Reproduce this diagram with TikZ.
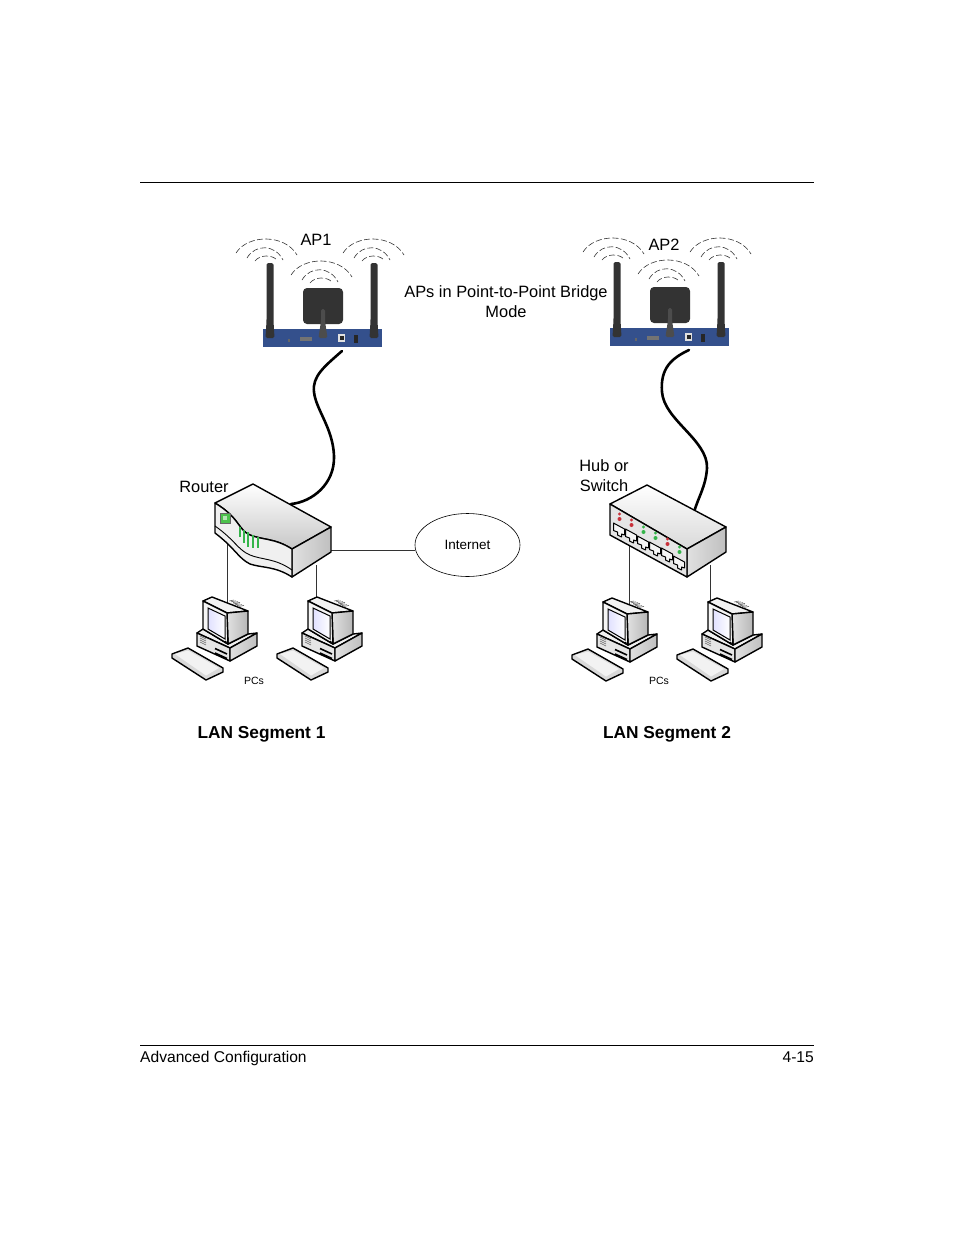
\documentclass[tikz,border=0pt]{standalone}
\usepackage{fontspec}
\setmainfont{Liberation Sans}
\usetikzlibrary{shapes.geometric}

\definecolor{apblue}{HTML}{34508C}
\definecolor{antenna}{HTML}{333333}
\definecolor{ledgreen}{HTML}{35B54A}
\definecolor{ledred}{HTML}{C8313A}

\tikzset{
  label16/.style = {font=\fontsize{16.4}{20}\selectfont, align=center, inner sep=0pt},
  footer/.style = {font=\fontsize{15.6}{18}\selectfont, inner sep=0pt},
  segment/.style = {font=\bfseries\fontsize{17.3}{20}\selectfont, inner sep=0pt},
  small/.style = {font=\fontsize{10.5}{12}\selectfont, inner sep=0pt},
  case/.style = {draw=black, line width=1.4pt, line join=round},
  link/.style = {draw=black!80, line width=0.7pt},
  cable/.style = {draw=black, line width=2.6pt, line cap=round},
  wave/.style = {draw=black!80, line width=0.6pt, dash pattern=on 6pt off 2.5pt},
  waves/.pic = {
    \draw [wave] (-34, -9) .. controls (-22, -28) and (15, -28) .. (27, -7);
    \draw [wave] (-23, -4) .. controls (-15, -18) and (5, -18) .. (13, -2);
    \draw [wave] (-15, -1) .. controls (-10, -7.5) and (2, -7.5) .. (7, -2);
  },
  ap/.pic = {
    % panel
    % -----
    \fill [antenna, rounded corners=4pt] (40, -41) rectangle (80, -5);
    % box
    % ---
    \fill [apblue] (0, 0) rectangle (119, 18);
    \fill [black!55] (37, 7.5) rectangle (49, 12);
    \fill [black!60] (24.5, 9.5) rectangle (26.5, 13);
    \fill [black!12] (75, 4.5) rectangle (82, 13);
    \fill [black!85] (76.5, 6.5) rectangle (80.5, 11);
    \fill [black!85] (91, 6) rectangle (95, 14);
    % antennas
    % --------
    \foreach \ax/\at/\aw/\ac in {7/-66/3.5/black!80, 111/-66/3.5/black!80, 60/-20/2/black!70} {
      \fill [\ac, rounded corners=1.5pt]
        (\ax - \aw, \at) --
        (\ax + \aw, \at) --
        (\ax + \aw, -8) --
        (\ax + 4.5, 9) --
        (\ax - 4.5, 9) --
        (\ax - \aw, -8) --
        cycle
      ;
    }
    \pic at (7, -67) {waves};
    \pic at (114, -67) {waves};
    \pic at (62, -45) {waves};
  },
  pc/.pic = {
    % base
    % ----
    \draw [case, fill=black!6] (-6, 32) -- (0, 28) -- (25, 43) -- (45, 33) -- (54, 32) -- (27, 47) -- cycle;
    \draw [case, fill=black!10] (-6, 32) -- (27, 47) -- (27, 60) -- (-6, 45) -- cycle;
    \draw [case, left color=black!12, right color=black!25] (27, 47) -- (54, 32) -- (54, 45) -- (27, 60) -- cycle;
    \draw [black, line width=1.6pt] (12, 47.5) -- (24, 53);
    \draw [black, line width=1.6pt] (12, 52) -- (24, 57.5);
    \foreach \vy in {0, 2, 4, 6} {
      \draw [black!60, line width=0.6pt] (-3, 35 + \vy) -- (3, 38 + \vy);
    }
    % monitor
    % -------
    \draw [case, fill=black!5] (0, 0) -- (9, -4) -- (45, 10) -- (24, 12) -- cycle;
    \draw [case, left color=black!12, right color=black!28] (24, 12) -- (45, 10) -- (45, 33) -- (25, 43) -- cycle;
    \draw [case, fill=black!4] (0, 0) -- (24, 12) -- (25, 43) -- (0, 28) -- cycle;
    \draw [draw=black, line width=1pt, left color=blue!12, right color=white]
      (5, 7) -- (22, 15) -- (22, 38) -- (5, 28) -- cycle;
    \draw [black, line width=0.6pt] (22.5, 41) circle (0.9);
    \foreach \vx in {0, 2, 4, 6} {
      \draw [black!60, line width=0.6pt] (26 + \vx, 0 + 0.4*\vx) -- (31 + \vx, -1 + 0.4*\vx);
      \draw [black!60, line width=0.6pt] (30 + \vx, 3 + 0.4*\vx) -- (35 + \vx, 2 + 0.4*\vx);
    }
    % keyboard
    % --------
    \draw [case, fill=black!15] (-31, 53) -- (-15, 47) -- (20, 67) -- (20, 71) -- (3, 79) -- (-31, 57) -- cycle;
    \fill [black!5] (-28, 53) -- (-15, 49.5) -- (16, 67) -- (3, 74.5) -- cycle;
  },
  router/.pic = {
    \draw [case, top color=white, bottom color=black!22]
      (215, 503) -- (253, 484) -- (331, 527) -- (292, 549)
      .. controls (275, 538) and (262, 540) .. (250, 535)
      .. controls (238, 530) and (240, 518) .. (215, 503)
      -- cycle
    ;
    \draw [case, left color=black!12, right color=black!25]
      (292, 549) -- (331, 527) -- (331, 552) -- (292, 577) -- cycle
    ;
    \draw [case, fill=black!6]
      (215, 503)
      .. controls (240, 518) and (238, 530) .. (250, 535)
      .. controls (262, 540) and (275, 538) .. (292, 549)
      -- (292, 577)
      .. controls (275, 566) and (262, 568) .. (250, 564)
      .. controls (238, 558) and (235, 548) .. (215, 533)
      -- cycle
    ;
    \draw [case, line width=0.9pt]
      (215, 526)
      .. controls (235, 540) and (238, 550) .. (250, 555)
      .. controls (262, 560) and (275, 558) .. (292, 570)
    ;
    \fill [black!35!green!70!white, draw=black!60, line width=0.6pt] (220, 513) rectangle (230, 523);
    \fill [white, opacity=0.6] (223, 516) rectangle (227, 520);
    \foreach \bx/\by/\bz in {240/527/537, 244/530/543, 248/532/547, 253/535/548, 258/537/548} {
      \draw [ledgreen, line width=1.1pt] (\bx, \by) -- (\bx, \bz);
    }
  },
  hub/.pic = {
    \draw [case, top color=white, bottom color=black!15]
      (610, 504) -- (647, 485) -- (726, 527) -- (687, 549) -- cycle
    ;
    \draw [case, left color=black!12, right color=black!25]
      (687, 549) -- (726, 527) -- (726, 552) -- (687, 577) -- cycle
    ;
    \draw [case, fill=black!10]
      (610, 504) -- (687, 549) -- (687, 577) -- (610, 535) -- cycle
    ;
    \foreach \px/\py/\led in {619/530/ledred, 631/536/ledred, 643/543/ledgreen, 655/549/ledgreen, 667/555/ledred, 679/563/ledgreen} {
      \draw [draw=black, fill=black!4, line width=1pt, line join=round]
        (\px - 5.5, \py - 7) --
        (\px + 5.5, \py - 1) --
        (\px + 5.5, \py + 5) --
        (\px + 2.5, \py + 4) --
        (\px + 2.5, \py + 7) --
        (\px - 1.5, \py + 5) --
        (\px - 1.5, \py + 2) --
        (\px - 5.5, \py + 0.5) --
        cycle
      ;
      \fill [\led] (\px + 0.5, \py - 16) circle (1.6);
      \fill [\led] (\px + 0.5, \py - 11) circle (2);
    }
  },
}

\begin{document}
\begin{tikzpicture}[x=1pt, y=-1pt]
  \useasboundingbox (0, 0) rectangle (954, 1235);

  % page
  % ----
  \coordinate (headleft) at (140, 182.5);
  \coordinate (headright) at (814, 182.5);
  \coordinate (footleft) at (140, 1045.5);
  \coordinate (footright) at (814, 1045.5);
  \draw [-, line width = 0.8pt] (headleft) -- (headright);
  \draw [-, line width = 0.8pt] (footleft) -- (footright);
  \node [footer, anchor=base west] (chapter) at (140, 1062) {Advanced Configuration};
  \node [footer, anchor=base east] (pagenum) at (814, 1062) {4-15};

  % connection points
  % -----------------
  \coordinate (ap1port) at (342, 351);
  \coordinate (ap2port) at (689, 350);
  \coordinate (routertop) at (291, 504);
  \coordinate (hubtop) at (694, 512);
  \coordinate (routerleft) at (227, 535);
  \coordinate (routerright) at (316, 565);
  \coordinate (routerside) at (331, 550);
  \coordinate (hubleft) at (629, 540);
  \coordinate (hubright) at (710, 565);
  \coordinate (pc1top) at (227, 605);
  \coordinate (pc2top) at (316, 600);
  \coordinate (pc3top) at (629, 605);
  \coordinate (pc4top) at (710, 600);

  % links
  % -----
  \draw [link] (routerleft) -- (pc1top);
  \draw [link] (routerright) -- (pc2top);
  \draw [link] (hubleft) -- (pc3top);
  \draw [link] (hubright) -- (pc4top);
  \node [draw, ellipse, line width=0.6pt, minimum width=105pt, minimum height=63pt,
         inner sep=0pt, font=\fontsize{13.5}{16}\selectfont] (internet) at (467.5, 545) {Internet};
  \draw [link] (routerside) -- (internet.west |- routerside);

  % cables
  % ------
  \draw [cable] (ap1port)
    .. controls (325, 366) and (312, 376) .. (314, 392)
    .. controls (316, 410) and (333, 428) .. (334, 456)
    .. controls (335, 484) and (312, 502) .. (routertop)
  ;
  \draw [cable] (ap2port)
    .. controls (672, 358) and (660, 368) .. (662, 392)
    .. controls (664, 420) and (708, 440) .. (707, 468)
    .. controls (706, 486) and (698, 498) .. (hubtop)
  ;

  % devices
  % -------
  \pic at (263, 329) {ap};
  \pic at (610, 328) {ap};
  \pic at (0, 0) {router};
  \pic at (0, 0) {hub};
  \pic at (203, 601) {pc};
  \pic at (308, 601) {pc};
  \pic at (603, 602) {pc};
  \pic at (708, 602) {pc};

  % labels
  % ------
  \node [label16] (ap1label) at (316, 240) {AP1};
  \node [label16] (ap2label) at (664, 245) {AP2};
  \node [label16] (bridgelabel) at (506, 302) {APs in Point-to-Point Bridge\\Mode};
  \node [label16] (routerlabel) at (204, 487) {Router};
  \node [label16] (hublabel) at (604, 476) {Hub or\\Switch};
  \node [small] (pcs1label) at (254, 681) {PCs};
  \node [small] (pcs2label) at (659, 681) {PCs};
  \node [segment] (lan1label) at (261.5, 734.5) {LAN Segment 1};
  \node [segment] (lan2label) at (667, 734.5) {LAN Segment 2};
\end{tikzpicture}
\end{document}
